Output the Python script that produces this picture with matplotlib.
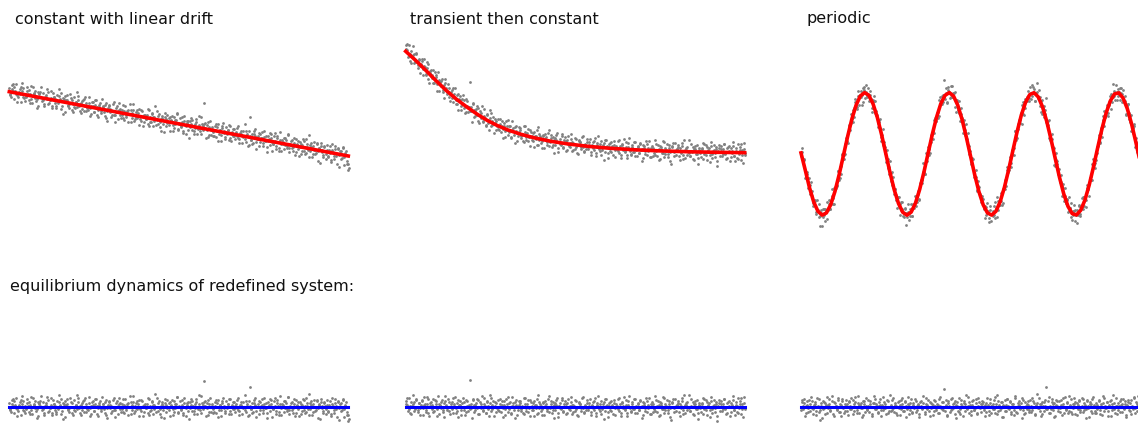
import numpy as np
import matplotlib
matplotlib.use("Agg")
import matplotlib.pyplot as plt

# ---------------- data ----------------
titles = ["constant with linear drift", "transient then constant", "periodic"]
bottom_title = "equilibrium dynamics of redefined system:"

# fitted curves (time 0..100, level in pixel-like units, 0 = final level)
drift_t = [0, 100]
drift_fit = [62.2, -2.1]

transient_t = [0, 3, 6, 9, 12, 15, 18, 21, 24, 27, 30, 34, 38, 43, 48, 54,
               60, 67, 75, 84, 92, 100]
transient_fit = [102.6, 93.3, 83.3, 73.0, 63.3, 54.6, 47.0, 39.9, 33.6, 28.4,
                 24.1, 19.6, 16.0, 12.5, 9.9, 7.5, 5.7, 4.2, 3.0, 2.1, 1.6, 1.2]

periodic_fit = [1.0, -16.1, -33.7, -48.0, -57.4, -61.2, -59.0, -50.9, -37.7, -20.8,
                -1.8, 17.3, 34.8, 48.7, 57.9, 61.3, 58.6, 50.1, 36.7, 19.6,
                0.5, -18.6, -35.8, -49.5, -58.3, -61.3, -58.2, -49.4, -35.6, -18.4,
                0.7, 19.8, 36.8, 50.3, 58.6, 61.3, 57.8, 48.6, 34.6, 17.1,
                -2.0, -21.0, -37.9, -51.0, -59.0, -61.2, -57.4, -47.8, -33.5, -15.9,
                3.3, 22.2, 38.9, 51.7, 59.4, 61.2, 56.9, 47.0, 32.4, 14.6,
                -4.6, -23.4, -39.9, -52.4, -59.7, -61.1, -56.4, -46.2, -31.3, -13.4,
                5.9, 24.6, 40.8, 53.0, 60.0, 61.0, 55.9, 45.3, 30.2, 12.1,
                -7.2]
periodic_t = list(np.linspace(0, 100, len(periodic_fit)))

# residuals (observations minus fit) read from the lower row;
# "_a" samples sit on the even time steps, "_b" samples on the odd ones
resid_drift_a = [
    4, -3, 7, 1, -6, 2, 9, -2, 0, 5, -8, 3, 6, -4, 1, -1, 8, -5, 2, 10,
    -7, 0, 3, 6, -2, -9, 4, 1, 11, -3, 5, -6, 2, 0, 7, -4, -1, 9, -8, 3,
    1, -5, 6, -2, 12, 0, -7, 4, 3, -10, 2, 8, -3, -1, 5, -6, 0, 7, -4, 2,
    -2, 9, 1, -8, 4, 6, -5, 0, 3, -3, 10, -1, -7, 5, 2, -4, 8, 1, -9, 4,
    6, -2, 0, 3, -6, 7, -11, 2, 5, -1, 1, -4, 9, -3, 0, 6, -7, 3, 4, -2,
    -5, 2, 8, -1, 3, -8, 0, 5, -3, 11, -6, 1, 4, -2, 7, 0, -4, 6, -9, 2,
    3, -1, -6, 8, 1, -3, 5, -7, 2, 0, 9, -4, 6, -2, -10, 3, 1, 4, -5, 7,
    0, -3, 5, 2, -8, 6, -1, 3, 10, -5, 1, -2, 7, -6, 4, 0, -9, 2, 5, -1,
    8, -4, 1, -7, 3, 5, -2, 12, 0, -6, 4, 2, 26, 6, -1, -8, 3, 9, -5, 1,
    -2, 5, -6, 0, 7, -3, 2, -9, 4, 1, -4, 6, -1, 3, -7, 8, 0, -2, 5, -5,
    3, -1, 9, -4, 2, -7, 5, 0, -3, 6, 1, -8, 20, -2, 4, -5, 7, 2, -10, 0,
    6, -3, 1, 8, -6, 3, -1, -11, 5, 2, -4, 7, 0, -2, 9, -7, 4, 1, -5, 3,
    -8, 2, 6, -1, 4, -4, 10, -3, 0, 5, -6, 3, -9, 7, 1, -2, 5, -7, 2, 8,
    -3, 1, -5, 4, 13, -2, 6, -8, 3, 0, -4, 7, -1, 2, -12, 5, 1, -6, 4, -2,
    7, -5, 2, 0, -7, 9, -3, 4, 1, -10, 6, -1, 3, -4, 8, -2, 0, 5, -8, -14]
resid_drift_b = [
    -2, -5, 3, 8, 6, -1, -9, -4, 2, 0, 7, 11, -3, -6, -2, 4, 1, 5, -7, -3,
    9, 2, -1, -4, -11, 5, 3, 6, 0, -2, -8, 1, 4, 10, -5, -1, 2, -6, 7, 3,
    -3, -7, 0, 5, 2, 8, -4, -12, 1, 6, 3, -2, -5, 9, 0, 4, -8, -3, 2, 12,
    5, -1, -6, 2, -3, 7, 9, -5, -2, 0, 4, -9, 1, 6, -4, 3, 8, -7, -1, 2,
    -4, 10, 3, -2, 5, -8, -1, 6, 2, -6, 0, 7, -3, -10, 4, 1, 9, -2, -5, 3,
    8, -6, -3, 1, 4, 0, 11, -7, 2, 5, -4, -1, 6, 3, -9, -2, 7, 1, -5, 0,
    -1, 3, 9, -8, -4, 6, 2, -2, 13, -5, 0, 4, -7, 1, 5, -3, -11, 8, 2, -1,
    4, -9, 1, 7, -2, -5, 3, 10, -6, 0, 6, -3, 2, -8, 9, -1, 4, -4, -12, 5,
    2, 6, -4, -1, 8, -7, 0, 3, -3, 11, -2, 5, 1, -9, 4, 7, -5, 0, 3, -6,
    -5, 1, 7, 4, -10, 2, -3, 6, 9, -1, -6, 0, 3, 8, -4, -7, 2, 5, -2, 1,
    7, -3, -8, 2, 5, 0, -1, 12, -5, 3, -9, 6, 1, -2, -6, 4, 9, -4, 0, 3,
    -7, 5, 2, -3, 9, -1, 4, -6, 0, 8, 3, -10, -2, 6, 1, -4, 7, -8, 11, -1,
    3, 0, -5, 6, -2, 10, -7, 1, 4, -3, -1, 8, -6, 2, 5, -9, 0, 3, -4, 7,
    -6, 9, 1, -2, -8, 4, 2, -5, 7, 0, -3, 6, -11, 3, 8, -1, -4, 5, 1, -7,
    2, -4, 6, -9, 3, 1, -6, 8, -2, 5, -13, 0, 4, -3, 7, -10, 2, -5, -8, -12]

resid_transient_a = [
    6, 2, -4, 9, 1, -7, 3, 5, -2, 8, 0, -5, 4, -1, 7, -8, 2, 3, -3, 10,
    -6, 1, 5, -2, 8, -4, 0, 6, -9, 3, 2, -1, 7, -5, 4, 11, -3, 0, 5, -7,
    3, -2, 9, 1, -6, 4, -10, 2, 6, -3, 0, 5, -8, 7, 1, -4, 2, 27, -1, 8,
    -5, 2, 4, -1, 7, -7, 3, 0, -3, 9, 1, -6, 5, -2, 12, -4, 2, 6, -9, 1,
    4, -3, 0, 8, -5, 2, -1, 6, -8, 3, 10, -2, 5, -6, 1, 4, -11, 7, 0, -3,
    2, 6, -4, 1, -7, 9, -1, 3, -5, 0, 7, -3, 4, -9, 2, -1, 8, -6, 5, 1,
    -2, 4, -8, 6, 0, -4, 11, -1, 3, -6, 5, 2, -3, 7, -10, 1, 4, -2, 9, -5,
    0, 3, -6, 8, -2, 1, 5, -7, 2, -4, 6, 0, -9, 4, 3, -1, 10, -5, 2, -3,
    7, -1, 4, -8, 1, 5, -3, 9, -6, 2, 0, -4, 6, -2, 3, -12, 8, 1, -5, 4,
    -3, 6, 2, -7, 4, -1, 0, 8, -4, 3, -9, 5, 1, -2, 7, -6, 2, 11, -1, -4,
    5, -2, 8, 0, -6, 3, -3, 6, 1, -8, 4, -1, 9, -5, 2, 0, -7, 5, 3, -2,
    -4, 7, 1, -9, 5, 2, -2, 10, -6, 3, 0, -3, 6, -1, -13, 4, 8, -5, 1, 2,
    6, -5, 3, -1, 9, -7, 2, 4, -3, 0, 12, -4, 1, 5, -8, 3, -2, 7, -6, 2,
    -1, 4, -7, 8, 0, -3, 5, 2, -10, 6, -2, 1, 7, -5, 3, -14, 4, 0, 6, -4,
    3, 8, -2, -6, 5, 1, -9, 4, 0, 7, -3, 2, -5, 9, -1, 6, -7, 3, 10, -2]
resid_transient_b = [
    3, 9, -2, -6, 5, 1, 12, -4, 0, 7, -3, 4, -8, 2, 6, -1, 10, -5, 3, 8,
    -9, 4, 0, 2, -5, 7, 3, -2, 11, -7, 1, 5, -3, -10, 6, 2, -1, 8, -4, 0,
    5, -6, 3, 10, -1, -4, 7, 2, -8, 4, 9, -3, 0, -5, 6, 1, -2, 3, -11, 7,
    2, -3, 8, -7, 0, 5, -1, 11, -4, 3, -6, 6, 1, -9, 4, 9, -2, 0, 5, -5,
    -1, 7, -4, 3, 6, -10, 2, -2, 8, 0, -5, 4, -7, 10, 1, -3, 5, 2, -8, 6,
    4, -2, 0, -6, 9, 3, -4, 7, -1, -9, 5, 1, -3, 6, 2, -7, 12, -1, 3, -4,
    -8, 5, 1, 3, -2, 8, -5, 0, 6, -3, -11, 4, 2, 9, -6, 1, -1, 7, -4, 3,
    6, -7, 4, 0, -3, 10, 2, -5, 1, 7, -2, -8, 5, 3, -4, 9, -1, -6, 0, 4,
    -3, 1, 8, -5, 2, -1, 6, -9, 4, 11, -2, 3, -7, 0, 5, -4, 8, 2, -10, 1,
    5, -4, 0, 7, -8, 3, 1, -2, 9, -6, 4, -1, 10, -3, 2, -9, 6, 0, -5, 3,
    -2, 8, -6, 1, 4, -3, 7, 0, -11, 5, 2, -4, 6, -1, 9, -7, 3, 1, -5, 11,
    0, -5, 6, 2, -8, 4, -2, 9, -3, 1, 7, -6, 3, -10, 5, 0, -1, 8, -4, 2,
    4, -9, 1, 6, -3, 12, -6, 2, 5, -1, -4, 8, 0, -7, 3, 6, -2, -12, 4, 1,
    -5, 3, 9, -2, 7, -8, 0, 4, -3, 10, -6, 2, -1, 5, -9, 1, 7, -4, 3, -2,
    8, -1, -7, 4, 0, 6, -5, 2, 11, -3, -8, 5, 1, -6, 3, 9, -2, -10, 4, 0]

resid_periodic_a = [
    -3, 5, 1, 8, -6, 2, -1, 7, -4, 0, 6, -2, 3, -8, 9, 1, -5, -13, 4, -2,
    5, -7, 2, 10, -1, 3, -4, 6, 0, -9, 4, 1, -3, 7, -5, 2, 8, -1, -6, 3,
    1, -4, 6, -2, 9, 0, -7, 3, 5, -3, 11, -6, 2, 4, -1, -8, 6, 1, -2, 7,
    -5, 3, 0, -9, 4, 8, -2, 1, -6, 5, 2, -3, 10, -1, 3, -7, 0, 6, -4, 2,
    7, -1, -5, 4, 1, -8, 6, 2, -2, 9, -4, 0, 5, -10, 3, 1, -3, 8, -6, 4,
    0, 6, -3, 2, -7, 5, 1, -1, 11, -5, 3, -2, 7, 0, -9, 4, 2, -4, 6, -1,
    3, -6, 8, 1, -2, 5, 18, -4, 2, -8, 6, 0, -3, 9, -1, 4, -7, 2, 5, -5,
    -2, 7, 1, -9, 4, 3, -1, 10, -6, 2, -4, 6, 0, -3, 8, -7, 1, 5, -1, 3,
    6, -3, 2, -5, 9, 0, -8, 4, 1, -2, 7, -6, 3, 12, -4, 2, -1, 5, -10, 1,
    -4, 2, 8, -1, 5, -7, 0, 3, -3, 9, -5, 1, 6, -2, 4, -11, 7, 0, -6, 3,
    2, -5, 7, 1, -3, 6, -8, 0, 4, -1, 9, -4, 3, -7, 5, 1, 20, -2, 6, -6,
    1, 8, -3, 4, -9, 2, 6, -1, -5, 7, 0, 3, -6, 10, -2, 5, -4, 1, 8, -7,
    -1, 3, 5, -8, 2, 7, -3, 0, 9, -5, 4, -2, 6, 1, -10, 3, -4, 8, 2, -6,
    4, -2, 0, 6, -7, 3, 11, -4, 1, -1, 5, -9, 2, 7, -3, 0, 4, -6, 9, 1,
    -3, 6, 2, -5, 8, -1, 3, -8, 5, 0, -4, 7, 1, -2, 10, -6, 3, 2, -7, 5]
resid_periodic_b = [
    7, -2, 4, -9, 1, 6, -5, 3, 10, -1, -7, 2, 5, -4, 0, 8, -3, 1, -11, 6,
    -1, 4, -6, 2, 8, -3, 0, 11, -7, 5, 1, -2, 9, -5, 3, -9, 6, 0, -4, 7,
    3, -8, 5, 1, -2, 7, -4, 10, 0, -6, 4, 2, -1, -10, 6, 3, -5, 9, -3, 1,
    6, 0, -7, 4, 11, -2, 3, -5, 1, 8, -9, 2, -3, 5, -1, 7, -6, 0, 12, -4,
    -3, 9, 2, -6, 0, 5, -1, -8, 7, 3, -4, 6, 1, -2, 10, -7, 4, -5, 2, -1,
    8, -5, 1, 3, -10, 6, -2, 4, 0, -7, 9, 2, -4, 5, -1, 3, -8, 7, 1, -3,
    2, -6, 10, -1, 5, -3, 0, 7, -9, 4, 1, -5, 8, -2, 3, 6, -11, 1, -4, 9,
    -7, 3, 0, 6, -4, 12, -2, 1, 5, -8, 2, 7, -3, -1, 4, -6, 9, 0, -5, 3,
    5, -1, -9, 4, 2, -4, 8, -6, 1, 3, -2, 10, -7, 6, 0, -3, 5, -10, 2, 7,
    -4, 8, 1, -2, 6, -5, 3, -8, 11, 0, -6, 4, 2, -1, 9, -3, -7, 5, 1, -2,
    6, -3, -5, 9, 0, 4, -7, 2, 13, -1, 3, -9, 5, 1, -4, 7, -2, 0, 10, -6,
    -2, 5, 3, -10, 7, 1, -4, 6, -1, 2, -8, 9, 0, -3, 4, -6, 11, 2, -5, 3,
    9, -7, 0, 4, -2, 6, -5, 1, 8, -3, 2, -11, 7, -1, 5, 3, -6, 10, 0, -4,
    -6, 2, 7, -3, 1, -8, 4, 9, -1, 5, -4, 0, 6, -9, 3, 12, -2, 1, -7, 4,
    1, -5, 8, 3, -2, 6, -10, 2, 7, -3, 4, -7, 0, 9, -1, 5, -4, 11, -6, 2]

resid_fit_t = [0, 100]
resid_fit = [0.0, 0.0]

panels = [(drift_t, drift_fit, resid_drift_a, resid_drift_b),
          (transient_t, transient_fit, resid_transient_a, resid_transient_b),
          (periodic_t, periodic_fit, resid_periodic_a, resid_periodic_b)]

# ---------------- layout ----------------
W, H = 1138, 424
fig = plt.figure(figsize=(W / 100, H / 100), dpi=100)
fig.patch.set_facecolor("white")

lefts = [9.3, 405.7, 801.0]
pw = 339.0
top_y0, top_y1 = 30.0, 240.0
bot_y0, bot_y1 = 370.0, 424.0
level_px_top = 153.9
level_px_bot = 406.7

PT_COLOR = "#808080"
PT_SIZE = 4.0

def add_ax(left, y0, y1):
    ax = fig.add_axes([left / W, 1 - y1 / H, pw / W, (y1 - y0) / H])
    ax.set_axis_off()
    ax.set_xlim(0, 100)
    return ax

for i, (ct, cf, ra, rb) in enumerate(panels):
    t_a = np.linspace(0, 100, len(ra))
    t_b = t_a + (t_a[1] - t_a[0]) / 2
    t_obs = np.concatenate([t_a, t_b])
    res = np.concatenate([np.asarray(ra, float), np.asarray(rb, float)])
    obs = np.interp(t_obs, ct, cf) + res

    ax = add_ax(lefts[i], top_y0, top_y1)
    ax.set_ylim(-(top_y1 - level_px_top), level_px_top - top_y0)
    ax.scatter(t_obs, obs, s=PT_SIZE, color=PT_COLOR, linewidths=0, zorder=2, clip_on=False)
    ax.plot(ct, cf, color="#ff0000", lw=2.6, zorder=3, clip_on=False)

    axb = add_ax(lefts[i], bot_y0, bot_y1)
    axb.set_ylim(-(bot_y1 - level_px_bot), level_px_bot - bot_y0)
    axb.scatter(t_obs, res, s=PT_SIZE, color=PT_COLOR, linewidths=0, zorder=2, clip_on=False)
    axb.plot(resid_fit_t, resid_fit, color="#0000ff", lw=2.2, zorder=3, clip_on=False)

# ---------------- text ----------------
title_x = [15, 410, 806.5]
for tx, s in zip(title_x, titles):
    fig.text(tx / W, 1 - 23.5 / H, s, fontsize=11.5, family="DejaVu Sans",
             va="baseline", ha="left", color="#111111")
fig.text(10 / W, 1 - 290.5 / H, bottom_title, fontsize=11.5, family="DejaVu Sans",
         va="baseline", ha="left", color="#111111")

fig.savefig("out.png", dpi=100, facecolor="white")
